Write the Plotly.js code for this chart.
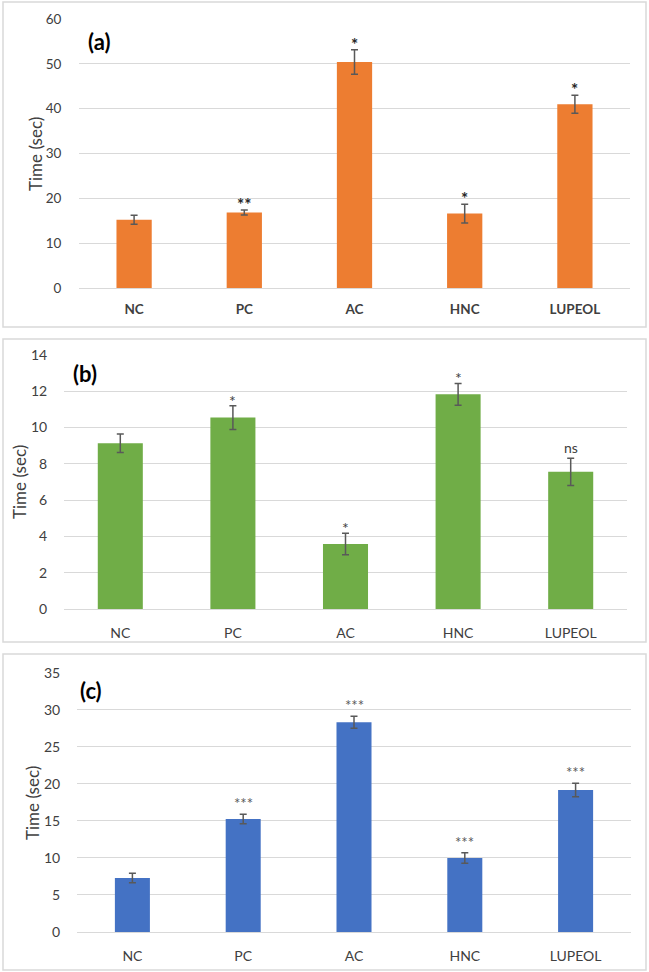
<!DOCTYPE html>
<html>
<head>
<meta charset="utf-8">
<script src="https://cdn.plot.ly/plotly-3.0.1.min.js"></script>
<style>
  html, body { margin: 0; padding: 0; background: #ffffff; }
  #chart { width: 649px; height: 972px; }
</style>
</head>
<body>
<div id="chart"></div>
<script>
// ---------- DATA ----------
const categories = ["NC", "PC", "AC", "HNC", "LUPEOL"];

const panelLabels = ["(a)", "(b)", "(c)"];

const valuesA = [15.2, 16.85, 50.4, 16.6, 41.0];
const errorsA = [1.0, 0.55, 2.75, 2.1, 2.0];
const signifA = ["", "**", "*", "*", "*"];

const valuesB = [9.14, 10.55, 3.58, 11.83, 7.56];
const errorsB = [0.51, 0.65, 0.59, 0.6, 0.75];
const signifB = ["", "*", "*", "*", "ns"];

const valuesC = [7.29, 15.25, 28.3, 9.99, 19.16];
const errorsC = [0.63, 0.63, 0.81, 0.7, 0.92];
const signifC = ["", "***", "***", "***", "***"];

const yTitle = "Time (sec)";

// ---------- STYLE ----------
const W = 649, H = 972;
const px = v => v / W;           // pixel x -> paper
const py = v => 1 - v / H;       // pixel y -> paper
const FONT = "Lato, 'Open Sans', sans-serif";

const panels = [
  { vals: valuesA, errs: errorsA, sig: signifA, color: "#ED7D31",
    xd: [79, 630], yd: [19, 288], range: [0, 60], dtick: 10, barW: 0.32,
    box: [3, 2, 646, 327], tickSize: 13.5, xWeight: "bold", yWeight: "normal",
    sigFont: { size: 17, color: "#262626", weight: "bold" }, sigShift: -7,
    labelPos: [99, 42], titlePos: [35, 154], yTicklen: 14, xTicklen: 9 },
  { vals: valuesB, errs: errorsB, sig: signifB, color: "#70AD47",
    xd: [64, 627], yd: [355, 609], range: [0, 14], dtick: 2, barW: 0.40,
    box: [3, 339, 646, 642], tickSize: 14, xWeight: "normal", yWeight: "normal",
    sigFont: { size: 16, color: "#404040", weight: "normal" }, sigShift: -6,
    labelPos: [85, 373], titlePos: [19, 482], yTicklen: 13, xTicklen: 11 },
  { vals: valuesC, errs: errorsC, sig: signifC, color: "#4472C4",
    xd: [77, 631], yd: [672.7, 932], range: [0, 35], dtick: 5, barW: 0.316,
    box: [3, 654, 646, 970], tickSize: 14, xWeight: "normal", yWeight: "normal",
    sigFont: { size: 15, color: "#595959", weight: "normal" }, sigShift: 0,
    labelPos: [91, 690], titlePos: [32, 803], yTicklen: 13, xTicklen: 11 }
];

const data = [];
const layout = {
  width: W, height: H,
  margin: { l: 0, r: 0, t: 0, b: 0 },
  paper_bgcolor: "#ffffff",
  plot_bgcolor: "#ffffff",
  showlegend: false,
  font: { family: FONT, color: "#595959" },
  shapes: [],
  annotations: []
};

panels.forEach((p, i) => {
  const n = i === 0 ? "" : String(i + 1);
  const xa = "x" + n, ya = "y" + n;

  data.push({
    type: "bar",
    x: categories,
    y: p.vals,
    xaxis: xa, yaxis: ya,
    width: p.barW,
    marker: { color: p.color, line: { width: 0 } },
    error_y: { type: "data", array: p.errs, visible: true,
               color: "#595959", thickness: 1.5, width: 3.5 },
    hoverinfo: "skip"
  });

  layout["xaxis" + n] = {
    domain: [px(p.xd[0]), px(p.xd[1])],
    anchor: ya,
    type: "category",
    range: [-0.5, 4.5],
    showgrid: false,
    showline: false,
    zeroline: false,
    ticks: "outside", ticklen: p.xTicklen, tickcolor: "rgba(0,0,0,0)",
    tickfont: { family: FONT, size: p.tickSize, color: "#404040", weight: p.xWeight },
    fixedrange: true
  };

  layout["yaxis" + n] = {
    domain: [py(p.yd[1]), py(p.yd[0])],
    anchor: xa,
    range: p.range,
    dtick: p.dtick,
    tick0: 0,
    showgrid: true, gridcolor: "#d9d9d9", gridwidth: 1,
    zeroline: true, zerolinecolor: "#d9d9d9", zerolinewidth: 1,
    showline: false,
    ticks: "outside", ticklen: p.yTicklen, tickcolor: "rgba(0,0,0,0)",
    tickfont: { family: FONT, size: p.tickSize, color: "#404040", weight: p.yWeight },
    fixedrange: true
  };

  // y-axis title (rotated text)
  layout.annotations.push({
    xref: "paper", yref: "paper",
    x: px(p.titlePos[0]), y: py(p.titlePos[1]),
    xanchor: "center", yanchor: "middle",
    textangle: -90,
    text: yTitle,
    showarrow: false,
    font: { family: FONT, size: 17, color: "#404040" }
  });

  // panel border
  layout.shapes.push({
    type: "rect", xref: "paper", yref: "paper",
    x0: px(p.box[0]), x1: px(p.box[2]),
    y0: py(p.box[3]), y1: py(p.box[1]),
    line: { color: "#d9d9d9", width: 1.5 },
    fillcolor: "rgba(0,0,0,0)", layer: "below"
  });

  // panel label
  layout.annotations.push({
    xref: "paper", yref: "paper",
    x: px(p.labelPos[0]), y: py(p.labelPos[1]),
    xanchor: "center", yanchor: "middle",
    text: "<b>" + panelLabels[i] + "</b>",
    showarrow: false,
    font: { family: FONT, size: 22, color: "#000000" }
  });

  // significance marks
  categories.forEach((c, k) => {
    if (!p.sig[k]) return;
    layout.annotations.push({
      xref: xa, yref: ya,
      x: c, y: p.vals[k] + p.errs[k],
      xanchor: "center", yanchor: "bottom",
      yshift: p.sig[k] === "ns" ? 0 : p.sigShift,
      text: p.sig[k],
      showarrow: false,
      font: { family: FONT, size: p.sig[k] === "ns" ? 14 : p.sigFont.size,
              color: p.sigFont.color, weight: p.sigFont.weight }
    });
  });
});

Plotly.newPlot("chart", data, layout, { staticPlot: true, displayModeBar: false });
</script>
</body>
</html>
